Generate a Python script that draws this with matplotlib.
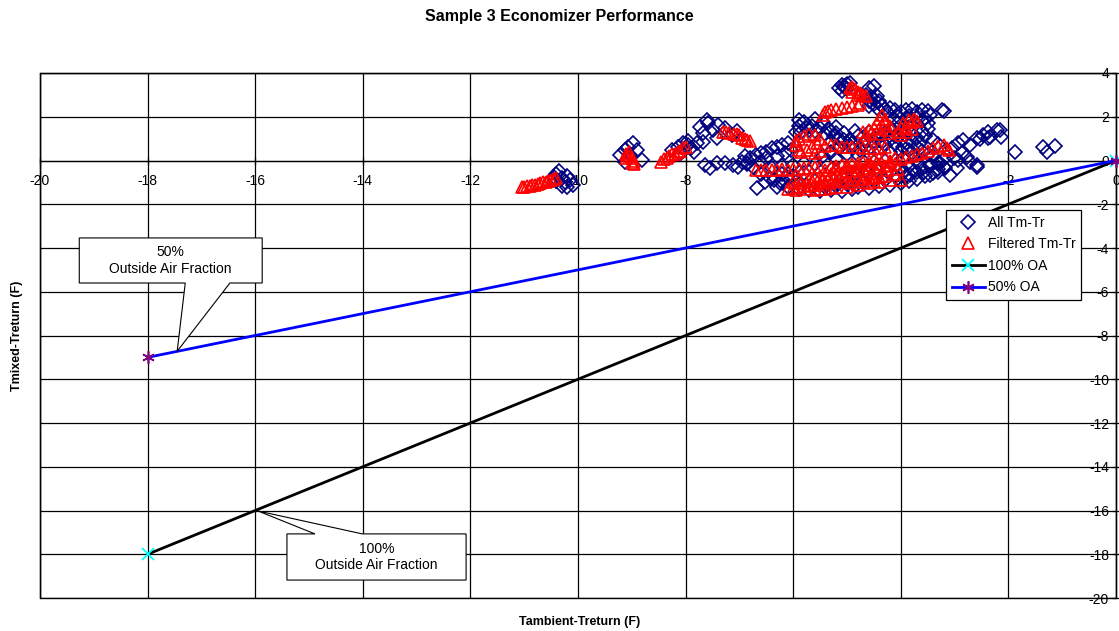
import matplotlib
matplotlib.use("Agg")
import matplotlib.pyplot as plt
from matplotlib.patches import Polygon, Rectangle

plt.rcParams['font.family'] = ['Liberation Sans', 'DejaVu Sans']
plt.rcParams['axes.unicode_minus'] = False

# ---------------- data ----------------
all_x = [
    # cluster near -10.3
    -10.45, -10.4, -10.35, -10.3, -10.25, -10.2, -10.15, -10.1, -10.3, -10.2, -10.4, -10.5,
    # cluster near -9
    -9.22, -9.13, -9.07, -8.98, -9.03, -9.13, -8.81, -8.9,
    # cluster near -8
    -8.25, -8.15, -8.05, -7.95, -7.9, -8.1, -7.95, -7.85,
    # cluster near -7.5 upper
    -7.73, -7.68, -7.58, -7.49, -7.4, -7.27, -7.14, -7.68, -7.42, -7.79, -7.6, -7.05,
    # row near y=0
    -7.64, -7.55, -7.42, -7.27, -7.12, -7.03, -6.86, -6.75, -6.62,
    # lower near -6.4
    -6.67, -6.52, -6.43, -6.3, -6.19, -6.12,
    # -7..-6 rising
    -6.9, -6.8, -6.7, -6.6, -6.5, -6.4, -6.3, -6.2, -6.1, -6.5, -6.3, -6.15, -6.05, -6.95, -6.85,
    # top cluster
    -5.15, -5.1, -5.05, -5.0, -4.95, -5.1, -5.0, -5.05,
    -4.6, -4.5, -4.65, -4.55, -4.5, -4.45, -4.4, -4.5, -4.6, -4.35, -4.3, -4.45, -4.6, -4.25,
    -4.2, -4.1, -4.0, -3.9, -3.8, -3.7, -3.6, -3.5, -3.45, -3.55, -3.7, -3.85, -4.05, -4.15,
    -3.6, -3.5, -3.2, -3.9, -3.24,
    # around -5.5, 1.5
    -5.9, -5.8, -5.75, -5.65, -5.6, -5.5, -5.4, -5.3, -5.25, -5.15, -5.05, -5.85, -5.7, -5.9,
    -5.95, -5.35, -5.2,
    # middle
    -5.3, -5.1, -4.95, -4.8, -4.65, -4.5, -4.35, -4.2, -4.1, -4.0, -3.9, -4.3, -4.15, -4.0,
    -3.8, -3.6, -3.5, -3.7, -4.7, -4.9, -5.0, -4.8, -4.6, -4.4, -4.2, -4.0, -3.85, -3.7,
    -3.6, -3.5, -3.4,
    -5.45, -5.3, -5.15, -4.95, -4.75, -4.55, -4.3, -4.1, -3.95, -3.8, -3.65, -3.4, -3.3,
    -3.55, -3.85, -4.05, -4.25, -4.45, -4.6, -4.85, -5.05, -5.2, -5.45, -5.6,
    # below zero
    -6.0, -5.8, -5.6, -5.4, -5.2, -6.2, -6.0, -5.8, -5.6, -5.4, -5.2, -5.0, -4.8, -4.6,
    -4.4, -4.2, -4.0, -3.85, -3.7, -3.55, -3.4, -3.3, -3.2, -3.9, -3.75, -3.6, -3.45, -3.3,
    -3.2, -4.05, -6.35, -5.9, -5.7, -5.5, -5.3, -5.1, -4.9, -4.7, -4.5, -4.3,
    -6.4, -6.6, -6.25, -6.1, -5.95, -6.2, -5.05, -4.85, -4.65, -4.45, -4.25, -4.0, -3.85,
    -3.95, -3.75,
    # right side
    -3.05, -2.93, -2.84, -2.71, -2.59, -2.47, -2.37, -2.22, -2.13, -2.37, -2.77, -2.87,
    -2.59, -2.71, -3.02, -3.09, -3.18, -3.30, -3.46, -3.58, -3.70, -3.83, -3.95, -2.96,
    -2.93, -3.70, -3.43, -3.27, -2.53, -2.16, -2.34, -2.59,
    # isolated right
    -1.88, -1.35, -1.13, -1.29,
]
all_y = [
    -0.75, -0.6, -0.5, -0.8, -1.0, -0.7, -0.9, -1.1, -1.15, -1.2, -0.95, -0.9,
    0.25, 0.48, 0.62, 0.8, 0.25, -0.06, 0.02, 0.48,
    0.5, 0.6, 0.8, 0.7, 0.55, 0.3, 0.9, 0.4,
    1.53, 1.26, 1.71, 1.39, 1.62, 1.49, 1.17, 0.85, 1.03, 0.8, 1.85, 1.35,
    -0.2, -0.34, -0.11, -0.11, -0.2, -0.3, -0.11, -0.3, -0.07,
    -1.26, -0.98, -0.8, -1.21, -1.03, -0.75,
    0.2, 0.1, 0.25, 0.35, 0.4, 0.55, 0.6, 0.7, 0.8, 0.1, 0.2, 0.35, 0.5, -0.05, -0.15,
    3.3, 3.45, 3.4, 3.5, 3.55, 3.2, 3.25, 3.35,
    3.3, 3.4, 3.0, 2.9, 2.8, 2.95, 2.7, 2.6, 2.7, 2.5, 2.35, 2.4, 2.5, 2.2,
    2.4, 2.3, 2.2, 2.3, 2.35, 2.2, 2.3, 2.25, 2.1, 1.95, 2.0, 2.05, 2.0, 1.9,
    1.8, 1.7, 2.25, 1.95, 2.31,
    1.6, 1.75, 1.5, 1.6, 1.35, 1.5, 1.2, 1.35, 1.1, 1.0, 0.95, 1.3, 1.4, 1.85,
    1.3, 1.45, 1.25,
    0.9, 0.85, 1.0, 1.1, 0.95, 0.9, 0.85, 0.95, 1.1, 0.95, 0.8, 1.25, 1.4, 1.35,
    1.2, 1.3, 1.45, 1.05, 0.75, 0.8, 0.3, 0.25, 0.35, 0.35, 0.4, 0.45, 0.5, 0.6,
    0.45, 0.3, 0.2,
    0.2, 0.4, 0.55, 0.65, 0.5, 0.6, 0.7, 0.75, 0.6, 0.9, 0.8, 0.95, 0.75,
    1.1, 1.55, 1.7, 1.05, 1.15, 1.3, 1.35, 1.25, 1.55, 1.75, 1.9,
    -0.2, -0.1, -0.15, -0.05, 0.05, -0.6, -0.7, -0.55, -0.95, -1.2, -1.15, -1.05, -1.2, -1.25,
    -1.15, -1.1, -1.05, -0.95, -0.85, -0.7, -0.55, -0.4, -0.3, -0.7, -0.5, -0.35, -0.2, -0.1,
    0.05, -0.8, -0.9, -1.3, -1.35, -1.4, -1.35, -1.4, -1.3, -1.0, -0.95, -0.9,
    -0.35, -0.6, -1.05, -1.2, -1.0, -0.25, -0.75, -0.6, -0.5, -0.45, -0.5, -0.35, -0.25,
    0.1, 0.25,
    0.56, 0.79, 0.94, 0.71, 1.01, 1.17, 1.32, 1.39, 1.09, 1.01, 0.17, 0.33,
    -0.28, -0.05, 0.1, -0.66, -0.36, -0.51, -0.66, -0.59, -0.51, -0.66, -0.51, -0.36,
    0.02, -0.05, -0.21, -0.13, 1.0, 1.39, 1.09, -0.21,
    0.4, 0.63, 0.67, 0.4,
]

filt_x = [
    # trail near -11
    -11.05, -11.0, -10.95, -10.9, -10.85, -10.8, -10.75, -10.7, -10.65, -10.6, -10.55, -10.5, -10.45, -10.4,
    # blob near -9
    -9.1, -9.05, -9.0, -8.95, -9.05, -9.0, -8.95, -9.1,
    # trail near -8.2
    -8.45, -8.4, -8.35, -8.3, -8.25, -8.2, -8.15, -8.1, -8.05, -8.0,
    # trail near -7
    -7.3, -7.2, -7.1, -7.0, -6.95, -6.9, -6.85, -6.8, -7.25, -7.05,
    # trail near y=-0.4
    -6.7, -6.6, -6.5, -6.4, -6.3, -6.2, -6.1, -6.0, -5.9, -5.8, -5.7, -5.6, -5.5,
    # hook near -5.7
    -5.95, -5.9, -5.8, -5.7, -5.6, -5.5, -5.55, -5.65, -5.75, -5.85, -5.9, -5.95, -5.5, -5.6,
    # horizontal trail y~0.6
    -5.4, -5.3, -5.2, -5.1, -5.0, -4.9, -4.8, -4.7, -4.6, -4.5, -4.4, -4.3,
    # dense mass below zero
    -6.1, -6.0, -5.9, -5.8, -5.7, -5.6, -5.5, -5.4, -5.3, -5.2, -5.1, -5.0, -4.9, -4.8,
    -4.7, -4.6, -4.5, -4.4, -4.3,
    -5.6, -5.5, -5.4, -5.3, -5.2, -5.1, -5.0, -4.9, -4.8, -4.7, -4.6, -4.5, -4.4, -4.3,
    -4.2, -4.1,
    -5.3, -5.2, -5.1, -5.0, -4.9, -4.8, -4.7, -4.6, -4.5, -4.4, -4.3,
    -5.9, -5.8, -5.7, -6.0, -5.5, -5.3, -5.0, -4.8, -4.6, -4.4, -4.2, -4.0, -4.1,
    -5.95, -5.75, -5.6, -5.4, -5.2, -4.95, -4.7, -4.5, -5.85, -5.65, -5.45, -5.25, -5.05,
    -4.85, -4.65, -4.45, -4.25, -4.05, -5.4, -5.2, -5.0, -4.8, -4.6, -4.4, -4.2,
    # rising trail to -3.1
    -4.2, -4.1, -4.0, -3.9, -3.8, -3.7, -3.6, -3.5, -3.4, -3.3, -3.2, -3.15, -3.1,
    # top blob
    -4.95, -4.9, -4.85, -4.8, -4.75, -4.7, -4.9, -4.8, -4.65,
    # rising trail upper
    -5.45, -5.4, -5.35, -5.3, -5.2, -5.1, -5.0, -4.9, -4.8, -4.75,
    # blob near -4.4
    -4.35, -4.4, -4.3, -4.45, -4.3, -4.2, -4.5, -4.6, -4.7, -4.4, -4.25, -4.55, -4.65, -4.4, -4.2,
    # blob near -3.9
    -4.05, -4.0, -3.95, -3.9, -3.85, -3.8, -3.75, -3.7, -3.9, -4.0, -3.8,
]
filt_y = [
    -1.22, -1.2, -1.18, -1.15, -1.12, -1.1, -1.07, -1.03, -1.0, -0.97, -0.93, -0.9, -0.86, -0.82,
    0.3, 0.2, 0.1, 0.0, 0.4, -0.1, -0.15, 0.1,
    -0.05, 0.05, 0.12, 0.2, 0.28, 0.32, 0.4, 0.45, 0.55, 0.6,
    1.3, 1.28, 1.22, 1.15, 1.05, 1.0, 0.92, 0.87, 1.3, 1.2,
    -0.45, -0.42, -0.45, -0.43, -0.45, -0.4, -0.42, -0.4, -0.38, -0.35, -0.32, -0.3, -0.28,
    0.9, 1.0, 1.1, 1.2, 1.15, 1.0, 0.8, 0.6, 0.5, 0.4, 0.5, 0.7, 0.45, 0.35,
    0.65, 0.7, 0.72, 0.6, 0.6, 0.6, 0.6, 0.58, 0.55, 0.55, 0.55, 0.6,
    -1.3, -1.25, -1.2, -1.15, -1.1, -1.1, -1.05, -1.0, -1.0, -0.95, -0.95, -0.9, -0.9, -0.85,
    -0.85, -0.8, -0.8, -0.75, -0.7,
    -0.75, -0.7, -0.65, -0.6, -0.6, -0.55, -0.5, -0.5, -0.45, -0.4, -0.35, -0.3, -0.3, -0.25,
    -0.2, -0.15,
    -0.3, -0.25, -0.2, -0.2, -0.15, -0.1, -0.05, 0.0, 0.05, 0.1, 0.15,
    -0.9, -0.8, -0.9, -1.0, -1.3, -1.25, -1.2, -1.1, -1.05, -1.0, -0.9, -0.9, -0.6,
    -1.35, -1.3, -1.35, -1.3, -1.2, -1.05, -1.0, -0.95, -1.05, -0.95, -0.85, -0.8, -0.7,
    -0.65, -0.6, -0.55, -0.45, -0.4, -0.45, -0.4, -0.35, -0.3, -0.2, -0.15, -0.05,
    0.0, 0.1, 0.05, 0.15, 0.2, 0.3, 0.35, 0.45, 0.55, 0.65, 0.7, 0.55, 0.5,
    3.3, 3.35, 3.25, 3.15, 3.1, 3.0, 3.15, 3.0, 2.95,
    2.1, 2.2, 2.25, 2.3, 2.35, 2.4, 2.45, 2.5, 2.55, 2.65,
    2.1, 1.9, 1.9, 1.7, 1.7, 1.6, 1.5, 1.4, 1.3, 1.45, 1.4, 1.25, 1.15, 1.2, 1.25,
    1.3, 1.5, 1.7, 1.55, 1.85, 1.75, 1.9, 1.8, 1.3, 1.15, 1.45,
]

oa100_x = [-18, 0]
oa100_y = [-18, 0]
oa50_x = [-18, 0]
oa50_y = [-9, 0]

x_ticks = list(range(-20, 1, 2))
y_ticks = list(range(-20, 5, 2))

# ---------------- figure ----------------
fig = plt.figure(figsize=(11.19, 6.31), dpi=100)
ax = fig.add_axes([40 / 1119, 33 / 631, 1076 / 1119, 525 / 631])
ax.set_xlim(-20, 0)
ax.set_ylim(-20, 4)

ax.set_xticks(x_ticks)
ax.set_yticks(y_ticks)
# gridlines drawn beneath the markers
for xv in x_ticks:
    ax.axvline(xv, color='black', linewidth=0.9, zorder=1)
for yv in y_ticks:
    ax.axhline(yv, color='black', linewidth=0.9, zorder=1)

for s in ['left', 'top', 'right']:
    ax.spines[s].set_linewidth(0.9)
ax.spines['bottom'].set_position(('data', 0))
ax.spines['bottom'].set_linewidth(0.9)
ax.add_patch(Rectangle((0, 0), 1, 1, transform=ax.transAxes, fill=False,
                       edgecolor='black', linewidth=1.0, zorder=5, clip_on=False))
ax.yaxis.tick_right()
ax.tick_params(axis='x', direction='inout', length=6, width=0.9, pad=7, labelsize=10)
ax.tick_params(axis='y', direction='inout', length=6, width=0.9, pad=-8, labelsize=10)
ax.set_xticklabels([str(t) for t in x_ticks])
ax.set_yticklabels([str(t) for t in y_ticks])
for lab in ax.get_yticklabels():
    lab.set_horizontalalignment('right')
# tick labels sit beneath the data markers, as in the original
ax.xaxis.set_zorder(2)
ax.yaxis.set_zorder(2)

ax.plot(all_x, all_y, linestyle='none', marker='D', markersize=7.5,
        markerfacecolor='none', markeredgecolor='#000080', markeredgewidth=1.2,
        label='All Tm-Tr', zorder=3)
ax.plot(filt_x, filt_y, linestyle='none', marker='^', markersize=8,
        markerfacecolor='none', markeredgecolor='#ff0000', markeredgewidth=1.2,
        label='Filtered Tm-Tr', zorder=4)
ax.plot(oa100_x, oa100_y, color='black', linewidth=2.0, marker='x', markersize=8,
        markeredgecolor='#00ffff', markeredgewidth=1.3, label='100% OA', zorder=6,
        clip_on=False)
ax.plot(oa50_x, oa50_y, color='#0000ff', linewidth=2.0, marker=(6, 2, 0), markersize=9,
        markeredgecolor='#800080', markeredgewidth=1.2, label='50% OA', zorder=6,
        clip_on=False)

# callouts
def callout(box, base, tip, text):
    x0, x1, y0, y1 = box
    if tip[1] < y0:
        pts = [(x0, y1), (x1, y1), (x1, y0), (base[1], y0), tip, (base[0], y0), (x0, y0)]
    else:
        pts = [(x0, y0), (x1, y0), (x1, y1), (base[1], y1), tip, (base[0], y1), (x0, y1)]
    ax.add_patch(Polygon(pts, closed=True, facecolor='white', edgecolor='black',
                         linewidth=0.8, zorder=7))
    ax.text((x0 + x1) / 2, (y0 + y1) / 2, text, ha='center', va='center',
            fontsize=10, zorder=8, linespacing=1.25)

callout((-19.27, -15.87, -5.6, -3.54), (-17.3, -16.47), (-17.45, -8.72),
        "50%\nOutside Air Fraction")
callout((-15.41, -12.08, -19.18, -17.07), (-14.89, -14.01), (-15.95, -16.02),
        "100%\nOutside Air Fraction")

leg = ax.legend(loc='upper left', bbox_to_anchor=(0.842, 0.739), fontsize=10,
                frameon=True, fancybox=False, edgecolor='black', framealpha=1,
                handlelength=2.4, handletextpad=0.2, labelspacing=0.55,
                borderpad=0.4, borderaxespad=0)
leg.get_frame().set_linewidth(0.9)
leg.set_zorder(11)

fig.text(0.5, 1 - 17 / 631, 'Sample 3 Economizer Performance', ha='center', va='center',
         fontsize=11.5, fontweight='bold')
fig.text(580 / 1119, 1 - 622 / 631, 'Tambient-Treturn (F)', ha='center', va='center',
         fontsize=9, fontweight='bold')
fig.text(17 / 1119, 1 - 336 / 631, 'Tmixed-Treturn (F)', ha='center', va='center',
         rotation=90, fontsize=9, fontweight='bold')

fig.savefig('out.png', dpi=100)
